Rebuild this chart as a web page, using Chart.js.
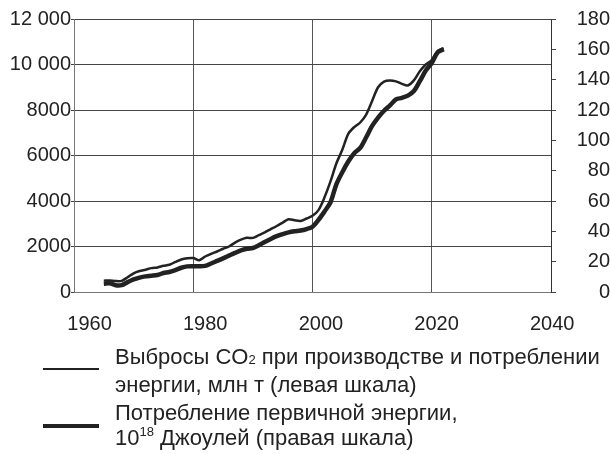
<!DOCTYPE html>
<html>
<head>
<meta charset="utf-8">
<script src="https://cdn.jsdelivr.net/npm/chart.js@4/dist/chart.umd.min.js"></script>
<style>
  html, body { margin: 0; padding: 0; background: #fff; }
  #wrap { position: relative; width: 610px; height: 454px; font-family: "Liberation Sans", Arial, sans-serif; color: #222; }
  #chart { position: absolute; left: 0; top: 0; }
  .key { position: absolute; left: 43px; width: 56px; background: #222; }
  .txt { position: absolute; left: 115px; font-size: 22px; line-height: 25px; white-space: nowrap; }
  .txt sub { font-size: 13px; vertical-align: 0; }
  .txt sup { font-size: 13px; vertical-align: 9px; line-height: 0; }
</style>
</head>
<body>
<div id="wrap">
  <canvas id="chart" width="610" height="454"></canvas>
  <div class="key" style="top:368px;height:2px"></div>
  <div class="txt" style="top:344px">Выбросы CO<sub>2</sub> при производстве и потреблении<br>энергии, млн т (левая шкала)</div>
  <div class="key" style="top:424px;height:4px"></div>
  <div class="txt" style="top:400px">Потребление первичной энергии,<br>10<sup>18</sup> Джоулей (правая шкала)</div>
</div>
<script>
// years 1965-2022
const years = [];
for (let y = 1965; y <= 2022; y++) years.push(y);

// CO2 emissions, million tonnes (left scale)
const co2 = [
  500, 510, 480, 490, 650, 820, 920, 980, 1050, 1080,
  1150, 1200, 1320, 1430, 1480, 1490, 1400, 1560, 1680, 1780,
  1900, 2000, 2170, 2300, 2380, 2380, 2500, 2620, 2760, 2900,
  3050, 3200, 3150, 3120, 3230, 3350, 3600, 4150, 4850, 5650,
  6250, 6950, 7250, 7450, 7800, 8400, 9000, 9250, 9300, 9260,
  9150, 9080, 9300, 9700, 10000, 10200, 10600, 10720
];

// primary energy, EJ (right scale)
const energy = [
  5.5, 5.8, 4.4, 4.5, 6.5, 8.3, 9.5, 10.3, 10.7, 11.2,
  12.5, 13.2, 14.5, 16.0, 16.9, 17.0, 16.9, 17.2, 18.8, 20.5,
  22.2, 24.0, 25.8, 27.5, 28.5, 29.0, 30.8, 33.0, 35.0, 36.8,
  38.2, 39.3, 40.0, 40.5, 41.5, 43.0, 47.5, 53.0, 59.0, 71.0,
  79.0, 86.0, 91.5, 95.0, 102.0, 109.5, 115.0, 119.5, 123.0, 127.0,
  128.0, 129.5, 132.5, 139.0, 146.0, 151.0, 158.0, 160.0
];

const leftTicks = [0, 2000, 4000, 6000, 8000, 10000, 12000];
const rightTicks = [0, 20, 40, 60, 80, 100, 120, 140, 160, 180];
const xTicks = [1960, 1980, 2000, 2020, 2040];

const fontTicks = { family: "Liberation Sans", size: 20 };

new Chart(document.getElementById("chart"), {
  type: "line",
  data: {
    datasets: [
      {
        label: "CO2",
        data: years.map((y, i) => ({ x: y, y: co2[i] })),
        yAxisID: "yL",
        borderColor: "#222",
        borderWidth: 2.5,
        pointRadius: 0,
        tension: 0.3
      },
      {
        label: "Energy",
        data: years.map((y, i) => ({ x: y, y: energy[i] })),
        yAxisID: "yR",
        borderColor: "#222",
        borderWidth: 4.5,
        pointRadius: 0,
        tension: 0.3
      }
    ]
  },
  options: {
    responsive: false,
    animation: false,
    layout: { padding: { top: 19, bottom: 122, left: 0, right: 0 } },
    plugins: { legend: { display: false }, tooltip: { enabled: false } },
    scales: {
      // grid axis (years)
      x: {
        type: "linear",
        min: 1960,
        max: 2040,
        afterBuildTicks: s => { s.ticks = xTicks.map(v => ({ value: v })); },
        afterFit: s => { s.height = 0; },
        grid: { color: "#555", lineWidth: 1, drawTicks: false },
        border: { color: "#777", width: 1 },
        ticks: { display: false }
      },
      // label axis: the year labels sit a little right of their grid lines in the original
      xLab: {
        type: "linear",
        position: "bottom",
        min: 1957.3,
        max: 2039.8,
        afterBuildTicks: s => { s.ticks = xTicks.map(v => ({ value: v })); },
        afterFit: s => { s.height = 40; },
        grid: { display: false, drawTicks: false },
        border: { display: false },
        ticks: { color: "#222", font: fontTicks, padding: 20, maxRotation: 0, autoSkip: false, callback: v => String(v) }
      },
      yL: {
        position: "left",
        min: 0,
        max: 12000,
        afterBuildTicks: s => { s.ticks = leftTicks.map(v => ({ value: v })); },
        afterFit: s => { s.width = 74; },
        grid: { color: "#444", lineWidth: 1, tickLength: 3 },
        border: { color: "#777", width: 1 },
        ticks: {
          color: "#222", font: fontTicks, padding: 0,
          callback: v => v >= 10000 ? String(v).replace(/(\d{2})(\d{3})/, "$1 $2") : String(v)
        }
      },
      yR: {
        position: "right",
        min: 0,
        max: 180,
        afterBuildTicks: s => { s.ticks = rightTicks.map(v => ({ value: v })); },
        afterFit: s => { s.width = 59; s.paddingTop = 10; s.paddingBottom = 10; },
        grid: { drawOnChartArea: false, color: "#444", lineWidth: 1, tickLength: 5 },
        border: { color: "#333", width: 1 },
        ticks: { color: "#222", font: fontTicks, padding: 13, crossAlign: "far" }
      }
    }
  }
});
</script>
</body>
</html>
